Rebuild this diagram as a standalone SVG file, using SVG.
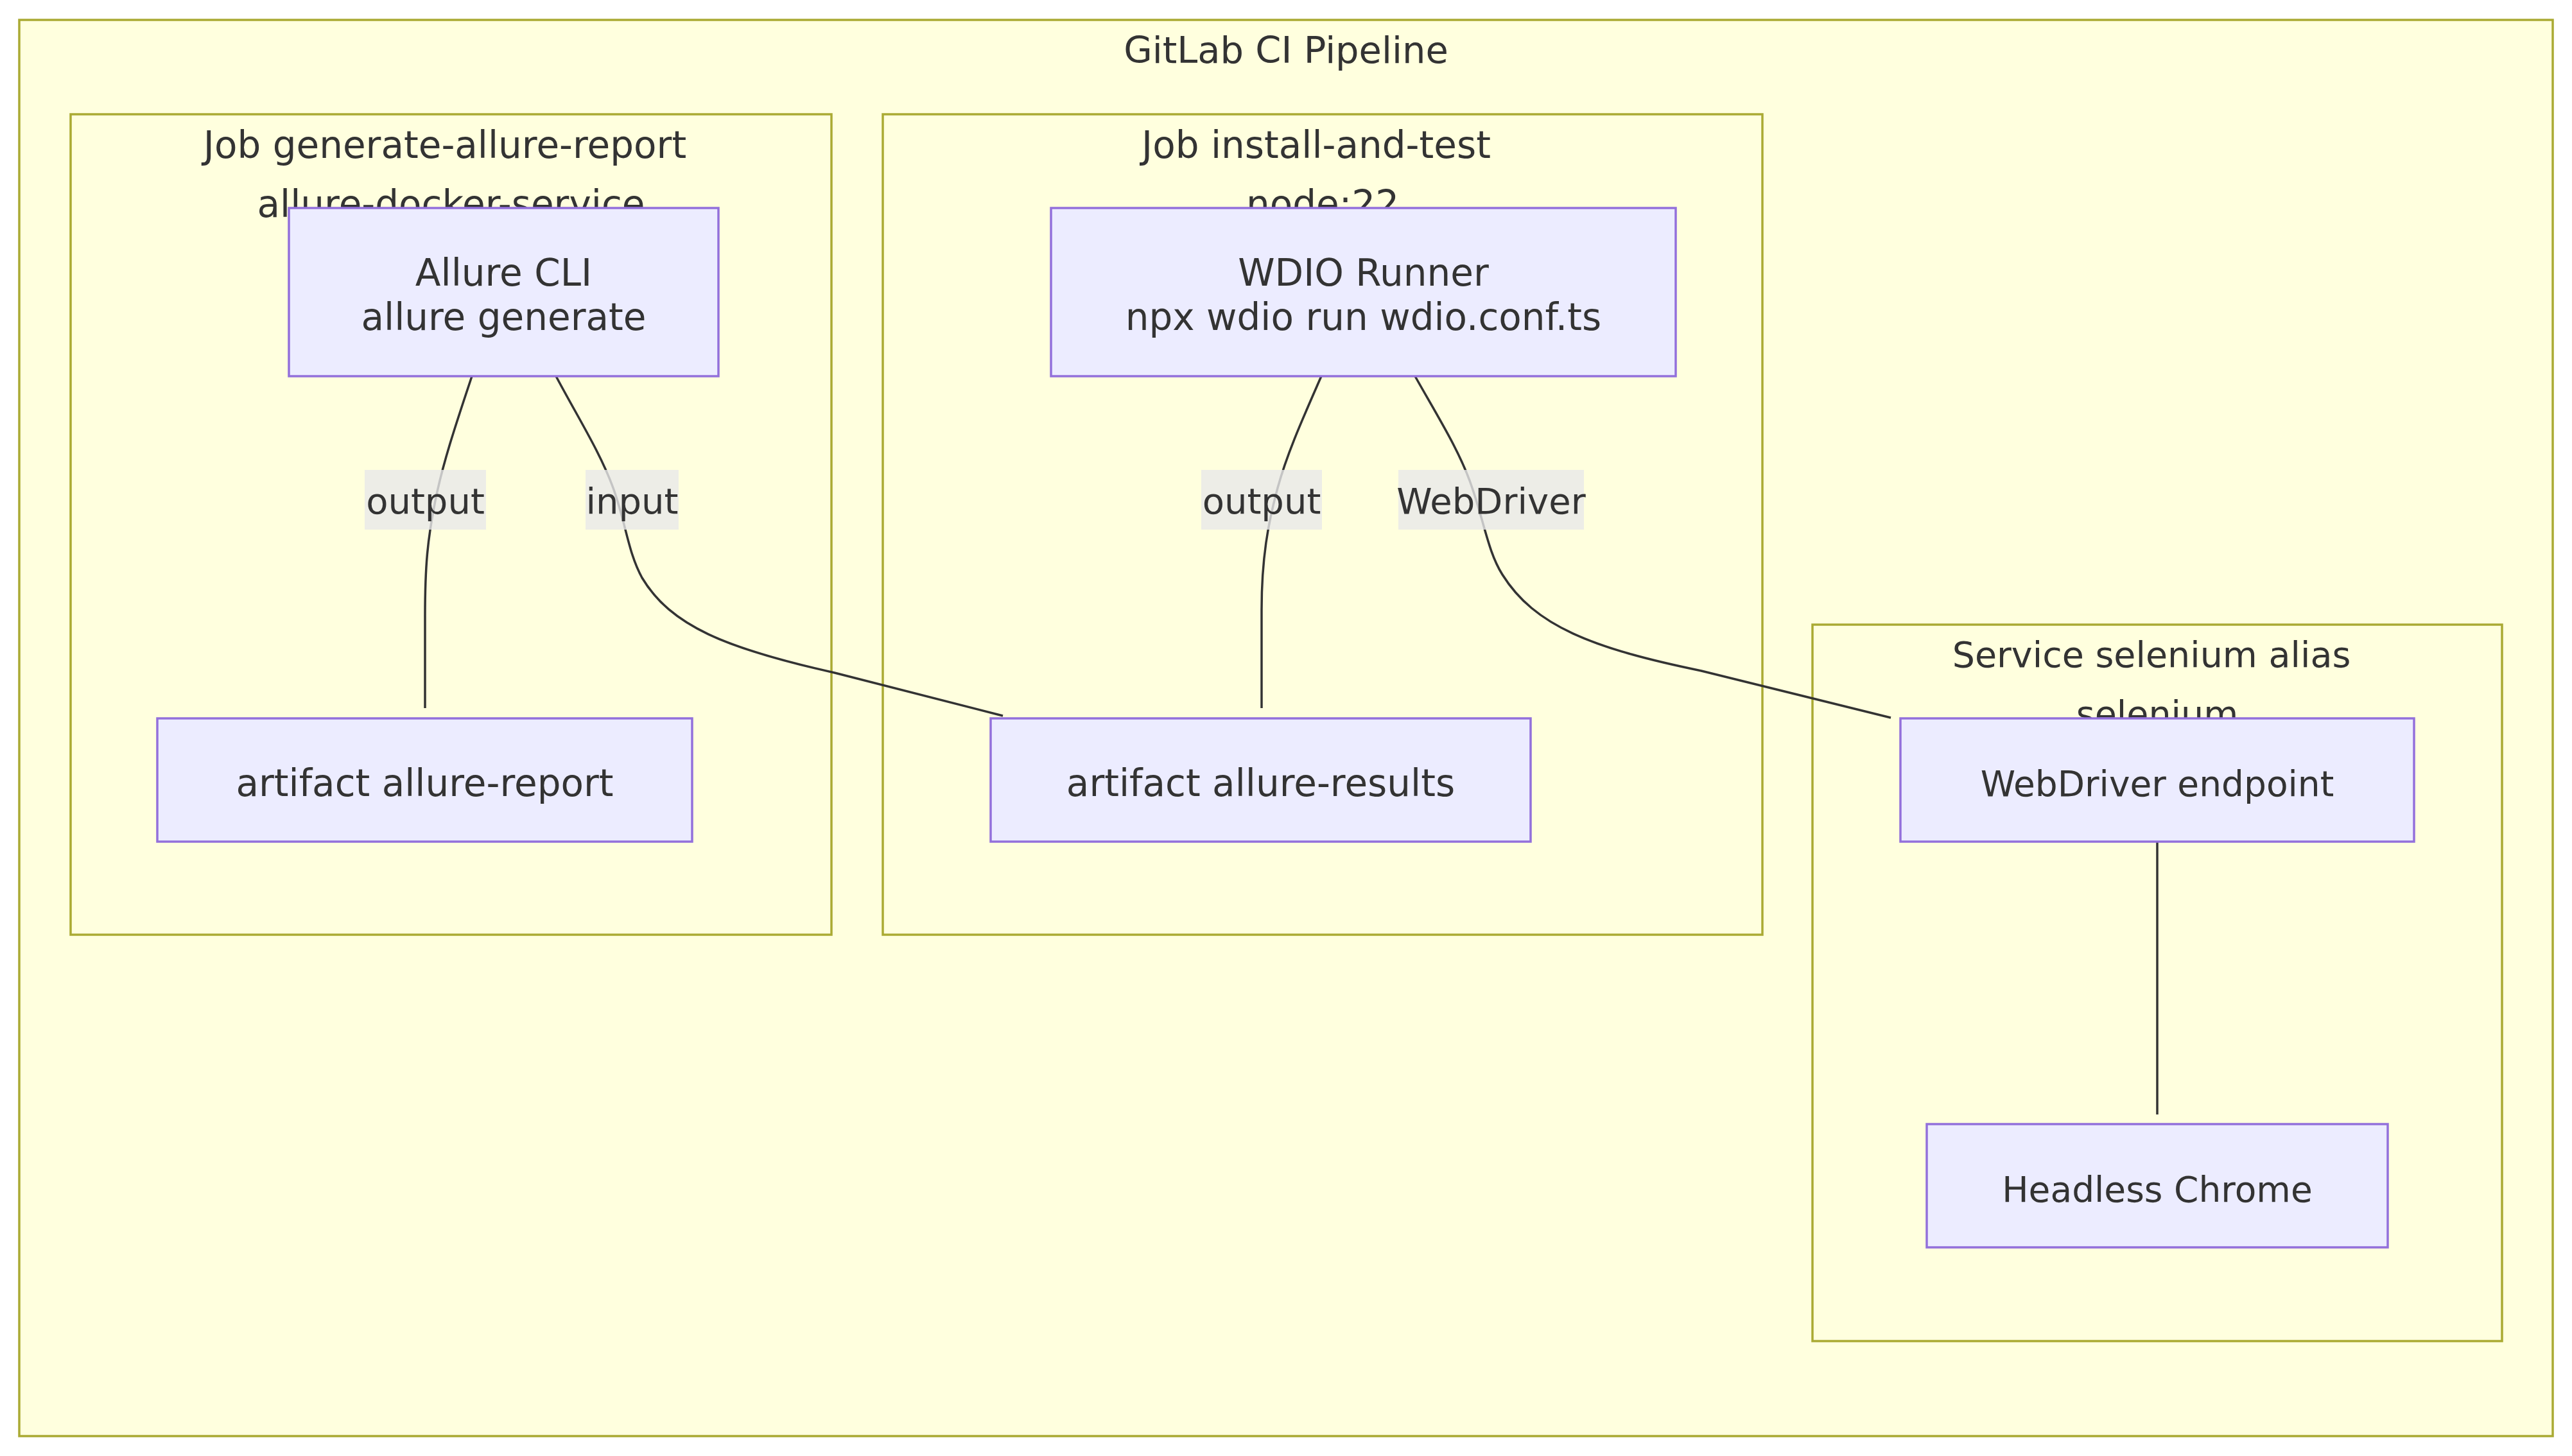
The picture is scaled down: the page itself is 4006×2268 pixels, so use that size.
<svg xmlns="http://www.w3.org/2000/svg" width="4006" height="2268" viewBox="0 0 4006 2268">
<style>
.cluster{fill:#FFFFDE;stroke:#AAAA33;stroke-width:3.5}
.node{fill:#ECECFF;stroke:#9370DB;stroke-width:3.5}
.edge{fill:none;stroke:#333333;stroke-width:3.5}
.lbl{fill:rgba(232,232,232,0.8)}
text{font-family:"DejaVu Sans",Verdana,sans-serif;fill:#333333;text-anchor:middle}
.ct{font-size:58px}
.cs{font-size:55.5px}
.nt{font-size:58px}
.ns{font-size:55px}
.et{font-size:56px}
</style>
<rect width="4006" height="2268" fill="#ffffff"/>
<g id="cluster-pipeline">
<rect class="cluster" x="30" y="31" width="3946" height="2206"/>
<text class="ct" x="2003" y="98" style="font-size:57.5px">GitLab CI Pipeline</text>
</g>
<g id="cluster-generate">
<rect class="cluster" x="110" y="178" width="1185" height="1278"/>
<text class="ct" x="693" y="246">Job generate-allure-report</text>
<text class="ct" x="702.5" y="338">allure-docker-service</text>
</g>
<g id="cluster-install">
<rect class="cluster" x="1375" y="178" width="1370" height="1278"/>
<text class="ct" x="2050" y="246">Job install-and-test</text>
<text class="ct" x="2060" y="338">node:22</text>
</g>
<g id="cluster-selenium">
<rect class="cluster" x="2823" y="973" width="1074" height="1116"/>
<text class="cs" x="3351" y="1039">Service selenium alias</text>
<text class="cs" x="3360" y="1131">selenium</text>
</g>
<g id="connectors">
<path class="edge" d="M735,586 C712,655 690,720 678,780 C666,840 662,880 662,960 L662,1103"/>
<path class="edge" d="M866,586 C900,650 935,705 955,760 C975,815 978,860 1000,900 C1045,975 1130,1010 1300,1048 L1562,1115"/>
<path class="edge" d="M2058,586 C2030,650 2005,705 1990,760 C1975,815 1965,870 1965,950 L1965,1103"/>
<path class="edge" d="M2204,586 C2240,650 2275,705 2293,760 C2312,815 2318,860 2340,895 C2390,975 2480,1010 2650,1045 L2945,1118"/>
<path class="edge" d="M3360,1311 L3360,1736"/>
<g id="label-output-1"><rect class="lbl" x="568" y="732" width="189" height="93"/><text class="et" x="662.5" y="800">output</text></g>
<g id="label-input"><rect class="lbl" x="912" y="732" width="145" height="93"/><text class="et" x="984.5" y="800">input</text></g>
<g id="label-output-2"><rect class="lbl" x="1871" y="732" width="188" height="93"/><text class="et" x="1965" y="800">output</text></g>
<g id="label-webdriver"><rect class="lbl" x="2178" y="732" width="289" height="93"/><text class="et" x="2322.5" y="800">WebDriver</text></g>
</g>
<g id="node-allure-cli">
<rect class="node" x="450" y="324" width="669" height="262"/>
<text class="nt" x="784.5" y="445">Allure CLI</text>
<text class="nt" x="784.5" y="514">allure generate</text>
</g>
<g id="node-wdio">
<rect class="node" x="1637" y="324" width="973" height="262"/>
<text class="nt" x="2123.5" y="445">WDIO Runner</text>
<text class="nt" x="2123.5" y="514">npx wdio run wdio.conf.ts</text>
</g>
<g id="node-report">
<rect class="node" x="245" y="1119" width="833" height="192"/>
<text class="nt" x="661.5" y="1240">artifact allure-report</text>
</g>
<g id="node-results">
<rect class="node" x="1543" y="1119" width="841" height="192"/>
<text class="nt" x="1963.5" y="1240">artifact allure-results</text>
</g>
<g id="node-endpoint">
<rect class="node" x="2960" y="1119" width="800" height="192"/>
<text class="ns" x="3360" y="1240">WebDriver endpoint</text>
</g>
<g id="node-chrome">
<rect class="node" x="3001" y="1751" width="718" height="192"/>
<text class="ns" x="3360" y="1872">Headless Chrome</text>
</g>
</svg>
